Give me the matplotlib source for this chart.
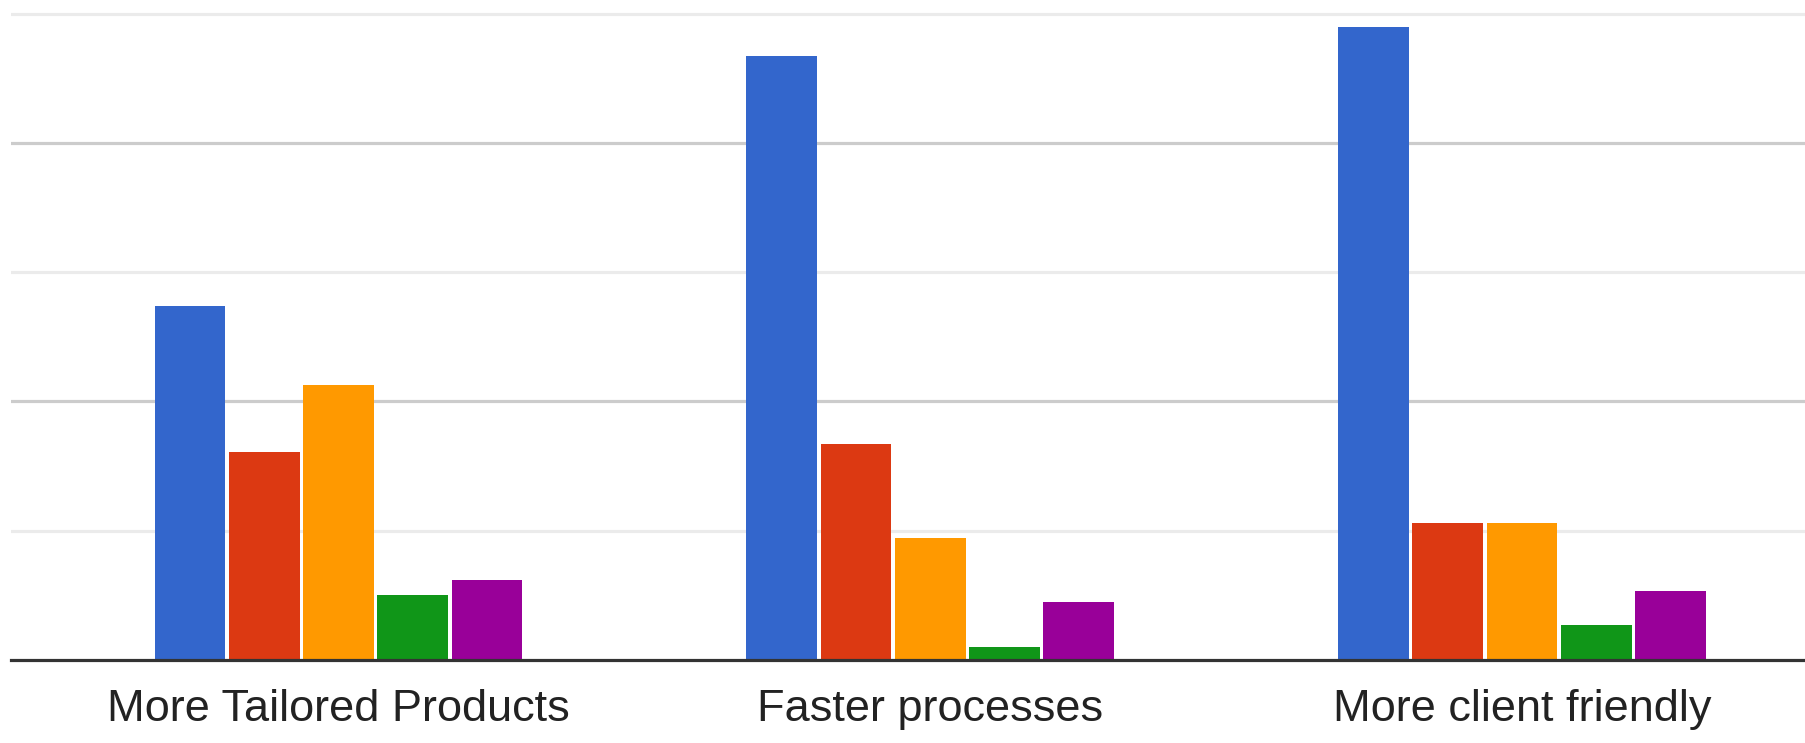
import matplotlib
matplotlib.use("Agg")
import matplotlib.pyplot as plt
import numpy as np

# Survey results per category, five response series
categories = ["More Tailored Products", "Faster processes", "More client friendly"]
series_blue = [27.4, 46.7, 49.0]
series_red = [16.1, 16.7, 10.6]
series_orange = [21.3, 9.4, 10.6]
series_green = [5.0, 1.0, 2.7]
series_purple = [6.2, 4.5, 5.3]

series = [series_blue, series_red, series_orange, series_green, series_purple]
colors = ["#3366cc", "#dc3912", "#ff9900", "#109618", "#990099"]

W, H = 1806, 743
fig = plt.figure(figsize=(W / 100, H / 100), dpi=100)
fig.patch.set_facecolor("white")

# axes: left edge at x=11px, right at the figure edge, baseline at y=660px
ax = fig.add_axes([11 / W, (H - 660) / H, 1 - 11 / W, 660 / H])
ax.set_facecolor("white")

ymax_grid = 50
px_per_unit = (660 - 13.7) / ymax_grid
ax.set_ylim(0, 660 / px_per_unit)
ax.set_xlim(-0.5533, 2.480)

# horizontal gridlines alternate light / darker
for i, yv in enumerate(range(10, ymax_grid + 1, 10)):
    c = "#cccccc" if (i % 2 == 1) else "#ebebeb"
    ax.axhline(yv, color=c, lw=2.3, zorder=0)

x = np.arange(len(categories))
slot = 0.1255
width = 0.1195
for k, (vals, col) in enumerate(zip(series, colors)):
    offs = (k - 2) * slot
    ax.bar(x + offs, vals, width=width, color=col, zorder=2, linewidth=0)

ax.axhline(0, color="#333333", lw=2.3, zorder=3, clip_on=False)

for s in ax.spines.values():
    s.set_visible(False)
ax.set_yticks([])
ax.set_xticks(x)
ax.set_xticklabels(categories, fontsize=32.5, color="#222222",
                   family=["Liberation Sans", "DejaVu Sans"])
ax.tick_params(axis="x", length=0, pad=21)

fig.savefig("out.png", dpi=100, facecolor="white")
